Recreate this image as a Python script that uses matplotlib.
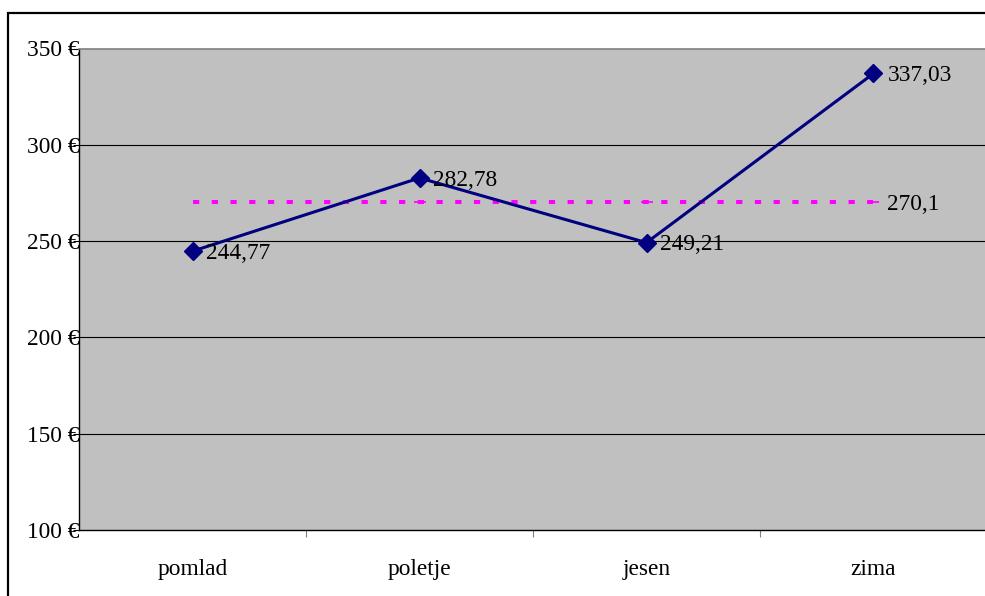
import matplotlib
matplotlib.use("Agg")
import matplotlib.pyplot as plt
from matplotlib.patches import Rectangle
from matplotlib.ticker import FixedLocator

seasons = ["pomlad", "poletje", "jesen", "zima"]
costs = [244.77, 282.78, 249.21, 337.03]
average = 270.1
y_ticks = [100, 150, 200, 250, 300, 350]

def fmt(v):
    return f"{v:g}".replace(".", ",")

plt.rcParams["font.family"] = ["Liberation Serif", "DejaVu Serif"]
FS = 16.8

fig = plt.figure(figsize=(9.85, 5.96), dpi=100)
W, H = 985, 596

# outer chart frame
fig.patches.append(Rectangle((8 / W, -0.1), 1.2, (596 - 13) / H + 0.1,
                             transform=fig.transFigure, fill=False,
                             edgecolor="black", linewidth=1.6, zorder=0))

ax = fig.add_axes([79 / W, 66 / H, (987 - 79) / W, (530 - 48.5) / H])
ax.set_facecolor("#c0c0c0")

x = list(range(len(seasons)))
ax.set_xlim(-0.5, len(seasons) - 0.5)
ax.set_ylim(y_ticks[0], y_ticks[-1])

# horizontal gridlines
for t in y_ticks[1:-1]:
    ax.axhline(t, color="black", linewidth=0.8, zorder=1)

# average line
avg = [average] * len(x)
ax.plot(x, avg, color="#ff00ff", linewidth=2.9,
        dashes=(1.55, 3.1), zorder=2, dash_capstyle="butt")
ax.plot(x[1:], avg[1:], linestyle="none", marker="_", markersize=8,
        markeredgewidth=1.2, color="#ff00ff", zorder=2)
ax.annotate(fmt(average), (x[-1], average), xytext=(10, -1.5),
            textcoords="offset points", va="center", ha="left", fontsize=FS)

# seasonal costs
ax.plot(x, costs, color="#000080", linewidth=2.2, marker="D", markersize=9.5,
        zorder=3)
for xi, v in zip(x, costs):
    ax.annotate(fmt(v), (xi, v), xytext=(10, -1.5), textcoords="offset points",
                va="center", ha="left", fontsize=FS, zorder=4)

# axes styling
ax.set_yticks(y_ticks)
ax.set_yticklabels([f"{t} €" for t in y_ticks], fontsize=FS)
ax.tick_params(axis="y", length=4, width=0.8, pad=-4.2, color="black")
ax.set_xticks(x)
ax.set_xticklabels(seasons, fontsize=FS)
ax.tick_params(axis="x", which="major", length=0, pad=21)
ax.xaxis.set_minor_locator(FixedLocator([0.5, 1.5, 2.5]))
ax.tick_params(axis="x", which="minor", length=5, width=0.8, color="#808080")

for side in ("left", "bottom"):
    ax.spines[side].set_color("black")
    ax.spines[side].set_linewidth(1.0)
ax.spines["top"].set_color("#808080")
ax.spines["top"].set_linewidth(1.2)
ax.spines["right"].set_color("#808080")

fig.savefig("out.png", dpi=100)
